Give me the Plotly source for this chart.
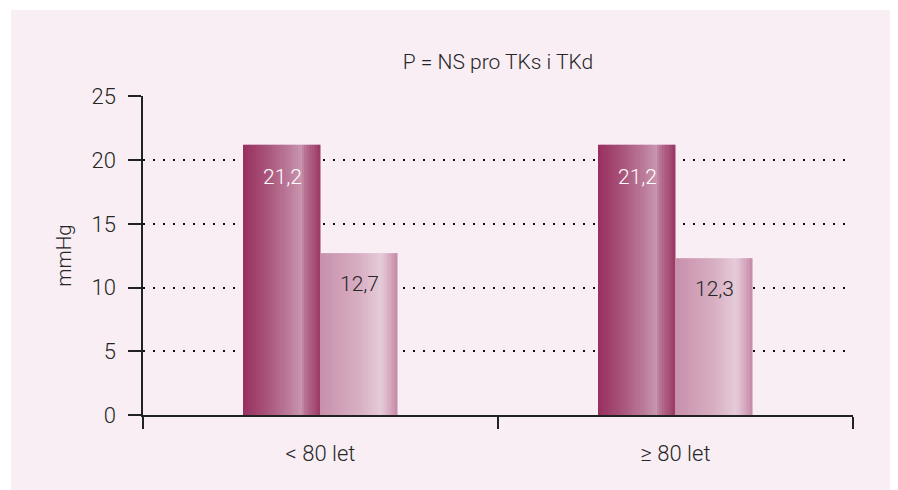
import plotly.graph_objects as go

# ---- data ----
categories = ["< 80 let", "≥ 80 let"]
series_tks = [21.2, 21.2]
series_tkd = [12.7, 12.3]
y_ticks = [0, 5, 10, 15, 20, 25]
title_text = "P = NS pro TKs i TKd"
y_title = "mmHg"

# ---- style ----
FONT = "Roboto"
W = 300
TXT = "#262626"
BG = "#f8eef4"
BAR_W = 0.217          # in category units
N_STRIPES = 48

dark_stops = [(0.0, (152, 47, 95)), (0.3, (168, 82, 120)), (0.6, (188, 124, 155)),
              (0.76, (201, 150, 175)), (0.8, (185, 116, 148)), (0.9, (170, 86, 123)),
              (1.0, (155, 56, 101))]
light_stops = [(0.0, (200, 144, 171)), (0.5, (215, 174, 194)), (0.78, (229, 202, 216)),
               (0.84, (224, 190, 207)), (0.93, (209, 160, 184)), (1.0, (199, 138, 168))]


def interp(stops, t):
    for (t0, c0), (t1, c1) in zip(stops[:-1], stops[1:]):
        if t0 <= t <= t1:
            f = 0 if t1 == t0 else (t - t0) / (t1 - t0)
            c = [round(a + (b - a) * f) for a, b in zip(c0, c1)]
            return "rgb(%d,%d,%d)" % tuple(c)
    return "rgb(%d,%d,%d)" % stops[-1][1]


fig = go.Figure()


def add_gradient_bar(values, base_offset, stops):
    sw = BAR_W / N_STRIPES
    for k in range(N_STRIPES):
        t = (k + 0.5) / N_STRIPES
        fig.add_trace(go.Bar(
            x=categories, y=values,
            offset=base_offset + k * sw,
            width=sw * 1.06 if k < N_STRIPES - 1 else sw,
            marker=dict(color=interp(stops, t), line=dict(width=0)),
            showlegend=False, hoverinfo="skip",
        ))


add_gradient_bar(series_tks, -BAR_W, dark_stops)
add_gradient_bar(series_tkd, 0.0, light_stops)

# value labels inside bars
for cat, v in zip(categories, series_tks):
    fig.add_annotation(x=cat, y=v, xref="x", yref="y", text=f"{v:.1f}".replace(".", ","),
                       showarrow=False, xshift=-38.5, yshift=-32, yanchor="middle",
                       font=dict(family=FONT, size=21, color="white", weight=W))
for cat, v in zip(categories, series_tkd):
    fig.add_annotation(x=cat, y=v, xref="x", yref="y", text=f"{v:.1f}".replace(".", ","),
                       showarrow=False, xshift=38.5, yshift=-31, yanchor="middle",
                       font=dict(family=FONT, size=21, color=TXT, weight=W))

# plot area: x 135..845, y 88..407 (figure coords)
fig.add_shape(type="rect", xref="paper", yref="paper",
              x0=(3 - 135) / 710, x1=1.3, y0=-0.4, y1=(407 - 2) / 319,
              fillcolor=BG, line=dict(width=0), layer="below")

fig.update_layout(
    width=890, height=482,
    margin=dict(l=135, r=45, t=88, b=75),
    paper_bgcolor="white", plot_bgcolor="rgba(0,0,0,0)",
    barmode="overlay",
    showlegend=False,
    font=dict(family=FONT, size=20, color=TXT, weight=W),
    title=dict(text=title_text, x=0.5, xref="paper", xanchor="center",
               y=1 - 54 / 482, yref="container", yanchor="middle",
               font=dict(family=FONT, size=21, color=TXT, weight=W)),
    xaxis=dict(
        type="category", range=[-0.5, 1.5],
        tickson="boundaries", ticks="outside", ticklen=12, tickwidth=1.5, tickcolor="#222",
        showline=True, linecolor="#222", linewidth=1.5,
        showgrid=False, ticklabelstandoff=18,
        tickfont=dict(family=FONT, size=22, color=TXT, weight=W),
    ),
    yaxis=dict(
        range=[0, 25.03], tickvals=y_ticks, ticks="outside", ticklen=13, tickwidth=1.5,
        tickcolor="#222", showline=True, linecolor="#222", linewidth=1.5,
        showgrid=True, gridcolor="#111", gridwidth=1.5, griddash="2px,8px",
        zeroline=False, ticklabelstandoff=8,
        tickfont=dict(family=FONT, size=22, color=TXT, weight=W),
        title=dict(text=y_title, standoff=14, font=dict(family=FONT, size=20.5, color=TXT, weight=W)),
    ),
)

fig.write_html("out.html")
